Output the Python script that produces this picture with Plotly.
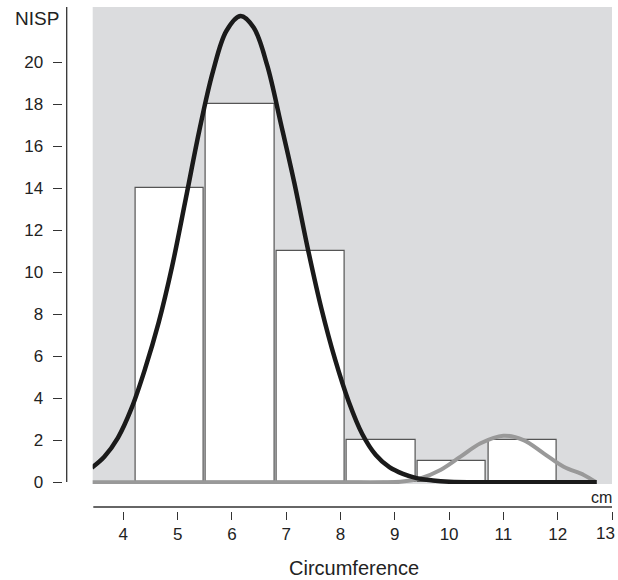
import plotly.graph_objects as go

# ---- data ----
bin_centers = [4.85, 6.15, 7.45, 8.75, 10.05, 11.35]
counts = [14, 18, 11, 2, 1, 2]

black_x = [3.42, 3.65, 3.90, 4.15, 4.40, 4.65, 4.90, 5.15, 5.40, 5.65, 5.90, 6.16,
           6.40, 6.65, 6.90, 7.15, 7.40, 7.65, 7.90, 8.15, 8.40, 8.65, 8.90, 9.15,
           9.40, 9.70, 10.0, 10.5, 11.0, 11.5, 12.0, 12.72]
black_y = [0.70, 1.22, 2.12, 3.52, 5.40, 7.60, 10.30, 13.50, 16.75, 19.55, 21.50, 22.20,
           21.65, 19.85, 17.10, 14.25, 11.10, 8.25, 5.85, 3.85, 2.30, 1.30, 0.72, 0.40,
           0.20, 0.09, 0.03, 0.0, 0.0, 0.0, 0.0, 0.0]

gray_x = [3.40, 5.0, 6.5, 8.0, 8.80, 9.10, 9.47, 9.84, 10.21, 10.58, 11.00, 11.37,
          11.74, 12.11, 12.48, 12.69]
gray_y = [0.0, 0.0, 0.0, 0.0, 0.0, 0.03, 0.19, 0.59, 1.22, 1.86, 2.22, 2.01,
          1.38, 0.74, 0.35, 0.03]

x_ticks = [4, 5, 6, 7, 8, 9, 10, 11, 12, 13]
x_tick_labels = ["4", "5", "6", "7", "8", "9", "10", "11", "12", ""]
last_x_label = "13"
y_ticks = [0, 2, 4, 6, 8, 10, 12, 14, 16, 18, 20]

FONT = "Liberation Sans, Arial, Helvetica, sans-serif"
TXT = "#222222"

fig = go.Figure()
fig.add_trace(go.Bar(
    x=bin_centers, y=counts, width=1.26,
    marker=dict(color="white", line=dict(color="#555555", width=1.2)),
    showlegend=False, hoverinfo="skip"))
fig.add_trace(go.Scatter(
    x=gray_x, y=gray_y, mode="lines",
    line=dict(color="#999999", width=4, shape="spline", smoothing=1.0),
    showlegend=False, hoverinfo="skip"))
fig.add_trace(go.Scatter(
    x=black_x, y=black_y, mode="lines",
    line=dict(color="#1a1a1a", width=4.5, shape="spline", smoothing=1.0),
    showlegend=False, hoverinfo="skip"))

W, H = 618, 580
L, R, T, B = 62, 6, 7, 69
pw, ph = W - L - R, H - T - B

def px_x(p):
    return (p - L) / pw

def px_y(p):
    return (H - B - p) / ph

fig.update_layout(
    width=W, height=H,
    autosize=False,
    margin=dict(l=L, r=R, t=T, b=B, autoexpand=False),
    paper_bgcolor="white",
    plot_bgcolor="#dbdcde",
    bargap=0,
    font=dict(family=FONT, color=TXT, size=17),
    xaxis=dict(
        domain=[px_x(92.7), 1], range=[3.436, 13.0],
        anchor="free", position=0, automargin=False,
        tickmode="array", tickvals=x_ticks, ticktext=x_tick_labels,
        ticks="outside", ticklen=8, tickwidth=1.2, tickcolor="#333333",
        ticklabelstandoff=0, ticklabeloverflow="allow",
        showline=False, showgrid=False, zeroline=False,
        tickfont=dict(size=17, family=FONT, color=TXT),
    ),
    yaxis=dict(
        domain=[px_y(484), 1], range=[-0.08, 22.63],
        anchor="free", position=0, automargin=False,
        tickmode="array", tickvals=y_ticks,
        ticks="outside", ticklen=9.5, tickwidth=1.2, tickcolor="#333333",
        ticklabelstandoff=6,
        showline=False, showgrid=False, zeroline=False,
        tickfont=dict(size=17, family=FONT, color=TXT),
    ),
    shapes=[
        dict(type="line", xref="paper", yref="paper",
             x0=px_x(66.7), x1=px_x(66.7), y0=px_y(482), y1=1,
             line=dict(color="#333333", width=1.3)),
        dict(type="line", xref="paper", yref="paper",
             x0=px_x(93.3), x1=1, y0=px_y(507), y1=px_y(507),
             line=dict(color="#333333", width=1.3)),
    ],
    annotations=[
        dict(text="NISP", xref="paper", yref="paper", x=px_x(37.3), y=px_y(18.3),
             xanchor="center", yanchor="middle", showarrow=False,
             font=dict(size=19, family=FONT, color=TXT)),
        dict(text="cm", xref="paper", yref="paper", x=px_x(601.7), y=px_y(497.5),
             xanchor="center", yanchor="middle", showarrow=False,
             font=dict(size=16, family=FONT, color=TXT)),
        dict(text=last_x_label, xref="paper", yref="paper", x=px_x(617), y=px_y(533),
             xanchor="right", yanchor="middle", showarrow=False,
             font=dict(size=17, family=FONT, color=TXT)),
        dict(text="Circumference", xref="paper", yref="paper", x=px_x(354), y=px_y(567.5),
             xanchor="center", yanchor="middle", showarrow=False,
             font=dict(size=20, family=FONT, color=TXT)),
    ],
)

fig.write_html(
    "out.html",
    config={"displayModeBar": False},
    post_script="document.body.style.margin='0px';document.body.style.padding='0px';"
                "document.body.style.overflow='hidden';",
)
